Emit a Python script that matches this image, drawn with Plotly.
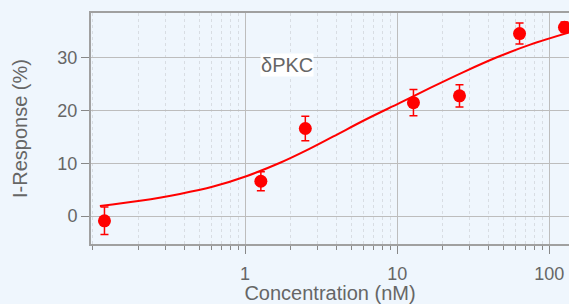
import plotly.graph_objects as go

# Measured data (concentration in nM, response in %)
conc = [0.119, 1.27, 2.49, 12.8, 25.7, 63.8, 126]
resp = [-0.9, 6.6, 16.6, 21.5, 22.8, 34.6, 35.8]
resp_err = [2.6, 1.8, 2.3, 2.5, 2.1, 2.0, 1.0]

# Fitted dose-response curve
fit_conc = [0.111, 0.204, 0.373, 0.618, 1.03, 1.70, 2.51, 3.81, 6.31,
            10.5, 16.5, 27.3, 45.3, 75.0, 135]
fit_resp = [1.9, 2.9, 4.2, 5.6, 7.6, 10.1, 12.4, 15.1, 18.4,
            21.5, 24.3, 27.3, 30.1, 32.5, 34.8]

label_text = "δPKC"
x_title = "Concentration (nM)"
y_title = "I-Response (%)"

BG = "#eff6fd"
TXT = "#666666"
RED = "#ff0000"

fig = go.Figure()
fig.add_trace(go.Scatter(
    x=fit_conc, y=fit_resp, mode="lines",
    line=dict(color=RED, width=2, shape="spline", smoothing=1.0),
    showlegend=False, hoverinfo="skip"))
fig.add_trace(go.Scatter(
    x=conc, y=resp, mode="markers",
    marker=dict(color=RED, size=13),
    error_y=dict(type="data", array=resp_err, color=RED, thickness=1.5, width=4),
    showlegend=False))

fig.add_annotation(
    x=0.274, y=28.7, xref="x", yref="y", text=label_text, showarrow=False,
    font=dict(size=20, color=TXT, family="Liberation Sans, Arial, sans-serif"),
    bgcolor="#ffffff", borderpad=0)

fig.update_layout(
    width=569, height=304,
    margin=dict(l=91, r=0, t=13, b=60),
    paper_bgcolor=BG, plot_bgcolor=BG,
    font=dict(family="Liberation Sans, Arial, sans-serif", color=TXT, size=18),
)
fig.update_xaxes(
    type="log", range=[-1.013, 2.13],
    tickvals=[1, 10, 100], ticktext=["1", "10", "100"],
    ticks="outside", ticklen=8, tickwidth=1, tickcolor="#888888",
    tickfont=dict(size=18, color=TXT), ticklabelstandoff=4,
    showgrid=True, gridcolor="#bdbdbd", gridwidth=1,
    showline=True, linecolor="#a0a0a0", linewidth=2, mirror=True,
    zeroline=False,
    minor=dict(dtick="D1", ticks="outside", ticklen=4, tickcolor="#888888",
               showgrid=True, gridcolor="#d8dde3", griddash="dot", gridwidth=1),
    title=dict(text=x_title, font=dict(size=20, color=TXT), standoff=3),
)
fig.update_yaxes(
    range=[-5.3, 38.5],
    tickvals=[0, 10, 20, 30],
    ticks="outside", ticklen=8, tickwidth=1, tickcolor="#888888",
    tickfont=dict(size=18, color=TXT),
    showgrid=True, gridcolor="#bdbdbd", gridwidth=1,
    showline=True, linecolor="#a0a0a0", linewidth=2, mirror=False,
    zeroline=False,
    title=dict(text=y_title, font=dict(size=20, color=TXT), standoff=24),
)

fig.write_html(
    "out.html",
    config={"displayModeBar": False},
    post_script="document.body.style.margin='0';"
                "document.body.style.overflow='hidden';"
                "document.body.style.background='#eff6fd';",
)
